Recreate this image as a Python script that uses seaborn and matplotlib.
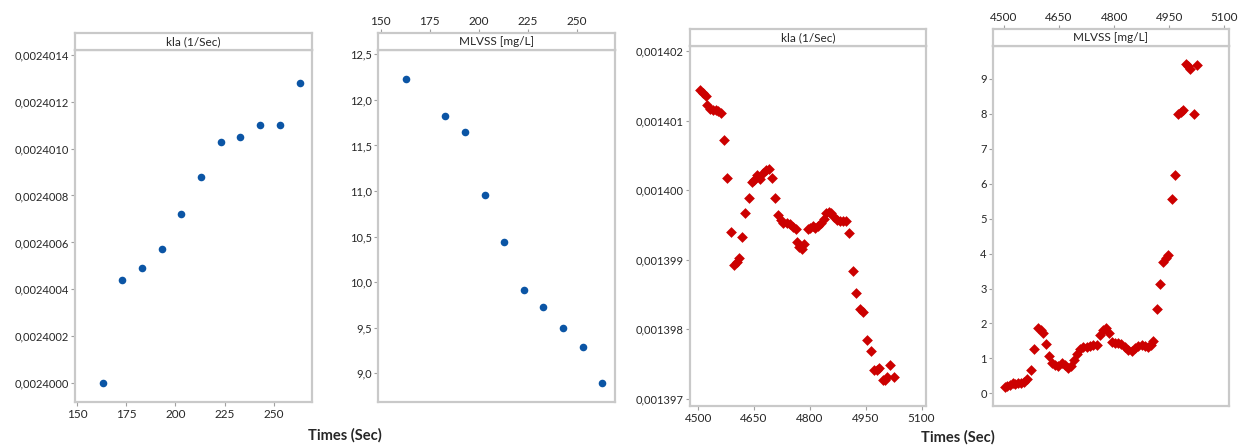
import matplotlib
matplotlib.use("Agg")
import matplotlib.pyplot as plt
import seaborn as sns
import pandas as pd
from matplotlib.ticker import FixedLocator, FuncFormatter

# ---------------- data ----------------
time_a = [163, 173, 183, 193, 203, 213, 223, 233, 243, 253, 263]
kla_a = [0.0024000, 0.00240044, 0.00240049, 0.00240057, 0.00240072, 0.00240088,
         0.00240103, 0.00240105, 0.00240110, 0.00240110, 0.00240128]

time_b = [163, 183, 193, 203, 213, 223, 233, 243, 253, 263]
mlvss_b = [12.23, 11.82, 11.65, 10.96, 10.44, 9.91, 9.73, 9.50, 9.29, 8.89]

time_c = [4506, 4513, 4520, 4525, 4533, 4540, 4548, 4554, 4560, 4569, 4578, 4587,
          4597, 4603, 4610, 4618, 4627, 4637, 4645, 4650, 4657, 4666, 4673, 4681,
          4689, 4698, 4707, 4715, 4722, 4729, 4738, 4747, 4754, 4762, 4765, 4772,
          4778, 4785, 4794, 4801, 4808, 4815, 4823, 4830, 4837, 4844, 4851, 4857,
          4865, 4873, 4880, 4888, 4896, 4905, 4916, 4925, 4934, 4943, 4953, 4965,
          4973, 4980, 4985, 4997, 5003, 5007, 5016, 5025]
kla_c_micro = [1401.44, 1401.39, 1401.35, 1401.22, 1401.17, 1401.15, 1401.15, 1401.13,
               1401.11, 1400.72, 1400.18, 1399.40, 1398.93, 1398.97, 1399.03, 1399.33,
               1399.67, 1399.89, 1400.12, 1400.14, 1400.22, 1400.16, 1400.25, 1400.29,
               1400.31, 1400.18, 1399.89, 1399.64, 1399.57, 1399.53, 1399.53, 1399.51,
               1399.47, 1399.44, 1399.25, 1399.19, 1399.15, 1399.23, 1399.44, 1399.45,
               1399.48, 1399.45, 1399.48, 1399.53, 1399.58, 1399.67, 1399.69, 1399.67,
               1399.62, 1399.57, 1399.55, 1399.56, 1399.56, 1399.39, 1398.84, 1398.52,
               1398.29, 1398.25, 1397.85, 1397.69, 1397.41, 1397.42, 1397.44, 1397.27,
               1397.28, 1397.32, 1397.49, 1397.31]
kla_c = [v * 1e-6 for v in kla_c_micro]

time_d = [4503, 4509, 4516, 4524, 4531, 4539, 4546, 4554, 4562, 4573, 4583, 4592,
          4600, 4607, 4614, 4623, 4631, 4639, 4648, 4657, 4666, 4674, 4682, 4691,
          4699, 4707, 4716, 4725, 4734, 4743, 4752, 4761, 4769, 4777, 4786, 4793,
          4802, 4811, 4820, 4829, 4839, 4848, 4857, 4866, 4875, 4884, 4893, 4900,
          4907, 4916, 4925, 4934, 4941, 4948, 4957, 4967, 4974, 4981, 4987, 4996,
          5002, 5008, 5017, 5025]
mlvss_d = [0.19, 0.21, 0.24, 0.29, 0.27, 0.29, 0.29, 0.33, 0.40, 0.67, 1.26, 1.86,
           1.81, 1.74, 1.41, 1.07, 0.88, 0.81, 0.78, 0.86, 0.81, 0.74, 0.79, 0.95,
           1.14, 1.26, 1.32, 1.33, 1.35, 1.38, 1.38, 1.67, 1.81, 1.86, 1.73, 1.48,
           1.43, 1.45, 1.41, 1.33, 1.24, 1.21, 1.29, 1.36, 1.38, 1.35, 1.33, 1.38,
           1.51, 2.41, 3.13, 3.77, 3.86, 3.96, 5.55, 6.24, 7.98, 8.06, 8.10, 9.41,
           9.36, 9.27, 7.99, 9.39]

xticks_small = [150, 175, 200, 225, 250]
xticks_large = [4500, 4650, 4800, 4950, 5100]
yticks_a = [0.0024000, 0.0024002, 0.0024004, 0.0024006, 0.0024008, 0.0024010,
            0.0024012, 0.0024014]
yticks_b = [9.0, 9.5, 10.0, 10.5, 11.0, 11.5, 12.0, 12.5]
yticks_c = [0.001397, 0.001398, 0.001399, 0.001400, 0.001401, 0.001402]
yticks_d = [0, 1, 2, 3, 4, 5, 6, 7, 8, 9]
strip_titles = ["kla (1/Sec)", "MLVSS [mg/L]", "kla (1/Sec)", "MLVSS [mg/L]"]
xlabel = "Times (Sec)"

# ---------------- style ----------------
sns.set_style("white")
plt.rcParams["font.family"] = ["Lato", "DejaVu Sans"]

BLUE = "#0b55a5"
RED = "#cc0000"
FRAME = "#c9c9c9"
TICK = "#a0a0a0"
TXT = "#262626"

W, H = 1246, 446
fig = plt.figure(figsize=(W / 100, H / 100), dpi=100)


def make_panel(x0, x1, ytop_strip, ytop, ybot):
    ax = fig.add_axes([x0 / W, 1 - ybot / H, (x1 - x0) / W, (ybot - ytop) / H])
    st = fig.add_axes([x0 / W, 1 - ytop / H, (x1 - x0) / W, (ytop - ytop_strip) / H],
                      sharex=ax)
    for a in (ax, st):
        for s in a.spines.values():
            s.set_color(FRAME)
            s.set_linewidth(1.6)
    st.set_yticks([])
    return ax, st


panels = [
    (75, 312, 33, 50, 402),
    (378, 615, 33, 50, 402),
    (690, 926, 29, 46, 406),
    (993, 1229, 29, 46, 406),
]

datasets = [
    (pd.DataFrame({"t": time_a, "v": kla_a}), BLUE, "o", 30),
    (pd.DataFrame({"t": time_b, "v": mlvss_b}), BLUE, "o", 30),
    (pd.DataFrame({"t": time_c, "v": kla_c}), RED, "D", 30),
    (pd.DataFrame({"t": time_d, "v": mlvss_d}), RED, "D", 30),
]

xlims = [(149, 269.3), (148.6, 269.5), (4478, 5112), (4470, 5113)]
ylims = [(0.00239992, 0.00240142), (8.685, 12.547), (0.0013969, 0.00140207), (-0.36, 9.935)]
yticks = [yticks_a, yticks_b, yticks_c, yticks_d]
yfmts = [lambda v, p: f"{v:.7f}".replace(".", ","),
         lambda v, p: f"{v:.1f}".replace(".", ","),
         lambda v, p: f"{v:.6f}".replace(".", ","),
         lambda v, p: f"{v:.0f}"]
xticks = [xticks_small, xticks_small, xticks_large, xticks_large]
xtop = [False, True, False, True]

for i, (geo, (df, col, mk, sz)) in enumerate(zip(panels, datasets)):
    ax, st = make_panel(*geo)
    sns.scatterplot(data=df, x="t", y="v", ax=ax, color=col, marker=mk, s=sz,
                    linewidth=0, legend=False)
    ax.set_xlim(*xlims[i])
    ax.set_ylim(*ylims[i])
    ax.yaxis.set_major_locator(FixedLocator(yticks[i]))
    ax.yaxis.set_major_formatter(FuncFormatter(yfmts[i]))
    ax.set_xlabel("")
    ax.set_ylabel("")
    ax.tick_params(axis="y", left=True, length=3, width=0.8, color=TICK,
                   labelsize=8, labelcolor=TXT, pad=1.5)
    st.set_xticks(xticks[i])
    ax.set_xticks(xticks[i])
    if xtop[i]:
        ax.tick_params(axis="x", bottom=False, labelbottom=False)
        st.tick_params(axis="x", top=True, labeltop=True, bottom=False,
                       labelbottom=False, length=3, width=0.8, color=TICK,
                       labelsize=8.5, labelcolor=TXT, pad=1.5)
    else:
        ax.tick_params(axis="x", bottom=True, labelbottom=True, length=3, width=0.8,
                       color=TICK, labelsize=8.5, labelcolor=TXT, pad=2)
        st.tick_params(axis="x", bottom=False, labelbottom=False, top=False,
                       labeltop=False)
    ax.set_xlim(*xlims[i])
    st.text(0.5, 0.5, strip_titles[i], transform=st.transAxes, ha="center",
            va="center", fontsize=8.5, color=TXT)

fig.text(345 / W, 1 - 435 / H, xlabel, ha="center", va="center", fontsize=10.5,
         fontweight="bold", color=TXT)
fig.text(958 / W, 1 - 437 / H, xlabel, ha="center", va="center", fontsize=10.5,
         fontweight="bold", color=TXT)

fig.savefig("out.png", dpi=100, facecolor="white")
